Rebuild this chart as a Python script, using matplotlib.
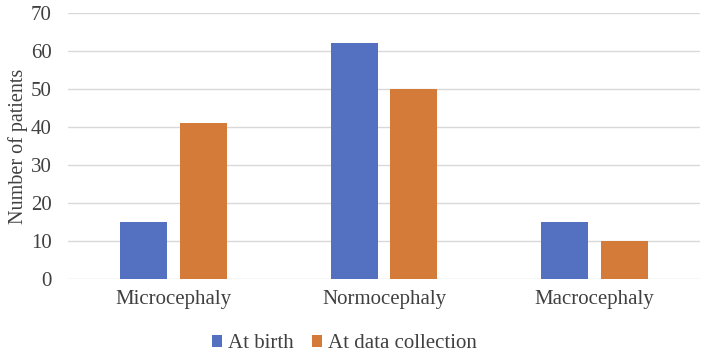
import numpy as np
import matplotlib.pyplot as plt

categories = ["Microcephaly", "Normocephaly", "Macrocephaly"]
at_birth = [15, 62, 15]
at_collection = [41, 50, 10]
yticks = [0, 10, 20, 30, 40, 50, 60, 70]

plt.rcParams['font.family'] = ['Liberation Serif', 'DejaVu Serif']

fig = plt.figure(figsize=(7.04, 3.54), dpi=100)
ax = fig.add_axes([0.097, 0.212, 0.897, 0.751])

x = np.arange(len(categories))
w = 0.223
off = 0.142
ax.bar(x - off, at_birth, w, color='#5470c0', label='At birth', zorder=3)
ax.bar(x + off, at_collection, w, color='#d47b39', label='At data collection', zorder=3)

ax.set_xlim(-0.5, 2.5)
ax.set_ylim(0, 70)
ax.set_yticks(yticks)
ax.set_xticks(x)
ax.set_xticklabels(categories)
ax.tick_params(axis='both', length=0, labelsize=15, colors='#404040')
ax.tick_params(axis='x', pad=8)
ax.tick_params(axis='y', pad=12)
ax.yaxis.grid(True, color='#d9d9d9', lw=1, zorder=0)
for s in ax.spines.values():
    s.set_visible(False)
ax.set_ylabel('Number of patients', fontsize=14.5, color='#404040', labelpad=2)

ax.legend(loc='lower center', bbox_to_anchor=(0.437, -0.35), ncol=2, frameon=False,
          fontsize=15, handlelength=0.5, handleheight=0.5, handletextpad=0.25,
          columnspacing=0.9, labelcolor='#404040')

fig.savefig('out.png', dpi=100)
